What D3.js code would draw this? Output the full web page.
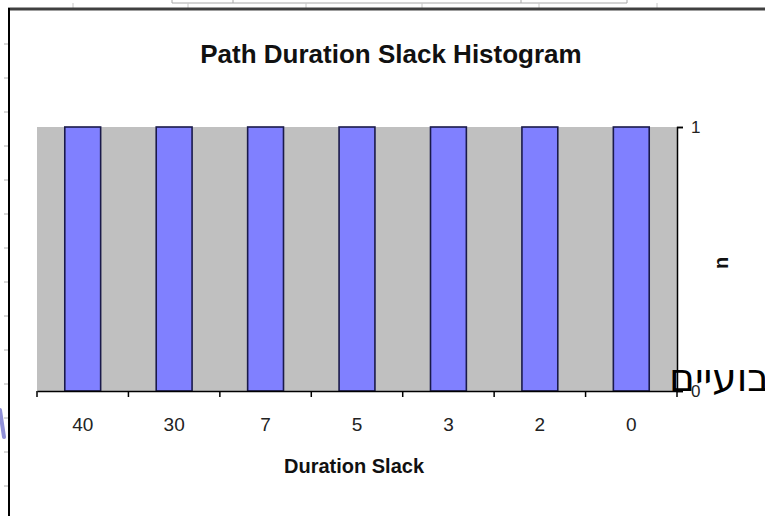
<!DOCTYPE html>
<html>
<head>
<meta charset="utf-8">
<script src="https://cdn.jsdelivr.net/npm/d3@7"></script>
<style>
  html, body { margin: 0; padding: 0; background: #ffffff; }
  svg { display: block; }
</style>
</head>
<body>
<svg id="chart" width="765" height="516"></svg>
<script>
// ---- data ----
const categories = ["40", "30", "7", "5", "3", "2", "0"];
const counts = [1, 1, 1, 1, 1, 1, 1];
const yTicks = [0, 1];
const titleText = "Path Duration Slack Histogram";
const xTitle = "Duration Slack";
const yTitle = "n";
const overlayText = "שבועיים";

const svg = d3.select("#chart");
const W = 765, H = 516;
const plot = { left: 37, right: 677, top: 127, bottom: 391 };

// ---- background frame artifacts (screenshot surroundings) ----
const frame = svg.append("g");
frame.append("path")
  .attr("d", "M172,0 V3 H627 V0 M233,0 V3 M521,0 V3")
  .attr("fill", "none").attr("stroke", "#a8a8a8").attr("stroke-width", 1);
[73, 188, 306, 422, 539, 657].forEach(xx => {
  frame.append("line").attr("x1", xx).attr("x2", xx).attr("y1", 3).attr("y2", 8)
    .attr("stroke", "#c8c8c8").attr("stroke-width", 1);
});
frame.append("line").attr("x1", 8).attr("x2", W).attr("y1", 9).attr("y2", 9)
  .attr("stroke", "#404040").attr("stroke-width", 3);
frame.append("line").attr("x1", 9).attr("x2", 9).attr("y1", 8).attr("y2", H)
  .attr("stroke", "#000").attr("stroke-width", 2);
for (let yy = 44; yy < H; yy += 34) {
  frame.append("line").attr("x1", 4).attr("x2", 8).attr("y1", yy).attr("y2", yy)
    .attr("stroke", "#b0b0b0").attr("stroke-width", 1);
}
frame.append("path")
  .attr("d", "M0,410 L4,437")
  .attr("fill", "none").attr("stroke", "#9090d8").attr("stroke-width", 4)
  .attr("stroke-linecap", "round");

// ---- scales ----
const x = d3.scaleBand().domain(categories).range([plot.left, plot.right])
  .paddingInner(0).paddingOuter(0);
const y = d3.scaleLinear().domain([0, 1]).range([plot.bottom, plot.top]);
const barW = x.bandwidth() / 2.55;

svg.append("rect")
  .attr("x", plot.left).attr("y", plot.top)
  .attr("width", plot.right - plot.left).attr("height", plot.bottom - plot.top)
  .attr("fill", "#c0c0c0");

svg.append("g").selectAll("rect")
  .data(categories.map((c, i) => ({ c, v: counts[i] })))
  .join("rect")
  .attr("x", d => x(d.c) + (x.bandwidth() - barW) / 2)
  .attr("y", d => y(d.v))
  .attr("width", barW)
  .attr("height", d => y(0) - y(d.v))
  .attr("fill", "#8080ff")
  .attr("stroke", "#1a1a4a")
  .attr("stroke-width", 1.6);

// x axis
const xAxis = d3.axisBottom(x).tickSize(0).tickPadding(0);
const gx = svg.append("g").attr("transform", `translate(0,${plot.bottom})`).call(xAxis);
gx.select(".domain").attr("stroke", "#000").attr("stroke-width", 1.5);
gx.selectAll(".tick text")
  .attr("y", 40)
  .attr("dy", 0)
  .attr("font-family", "Liberation Sans, Arial, sans-serif")
  .attr("font-size", 19)
  .attr("fill", "#222");
const bounds = categories.map(c => x(c)).concat([plot.right]);
svg.append("g").selectAll("line").data(bounds).join("line")
  .attr("x1", d => d).attr("x2", d => d)
  .attr("y1", plot.bottom).attr("y2", plot.bottom + 6)
  .attr("stroke", "#000").attr("stroke-width", 1.5);

// y axis (right)
const yAxis = d3.axisRight(y).tickValues(yTicks).tickSize(6).tickPadding(8)
  .tickFormat(d3.format("d"));
const gy = svg.append("g").attr("transform", `translate(${plot.right},0)`).call(yAxis);
gy.select(".domain").attr("stroke", "#000").attr("stroke-width", 1.5);
gy.selectAll(".tick line").attr("stroke", "#000").attr("stroke-width", 1.5);
gy.selectAll(".tick text")
  .attr("font-family", "Liberation Sans, Arial, sans-serif")
  .attr("font-size", 17)
  .attr("fill", "#222");

// title
svg.append("text")
  .attr("x", 391).attr("y", 63)
  .attr("text-anchor", "middle")
  .attr("font-family", "Liberation Sans, Arial, sans-serif")
  .attr("font-weight", "bold")
  .attr("font-size", 26)
  .attr("fill", "#111")
  .text(titleText);

// x title
svg.append("text")
  .attr("x", 354).attr("y", 473)
  .attr("text-anchor", "middle")
  .attr("font-family", "Liberation Sans, Arial, sans-serif")
  .attr("font-weight", "bold")
  .attr("font-size", 20)
  .attr("fill", "#111")
  .text(xTitle);

// y title (rotated)
svg.append("text")
  .attr("transform", "translate(723,263) rotate(-90)")
  .attr("text-anchor", "middle")
  .attr("dominant-baseline", "middle")
  .attr("font-family", "Liberation Sans, Arial, sans-serif")
  .attr("font-weight", "bold")
  .attr("font-size", 20)
  .attr("fill", "#111")
  .text(yTitle);

// overlaid Hebrew text (cut at right edge, as in the reference)
svg.append("text")
  .attr("x", 669).attr("y", 391)
  .attr("text-anchor", "start")
  .attr("font-family", "DejaVu Sans, sans-serif")
  .attr("font-size", 39)
  .attr("fill", "#000")
  .text(overlayText);
</script>
</body>
</html>
